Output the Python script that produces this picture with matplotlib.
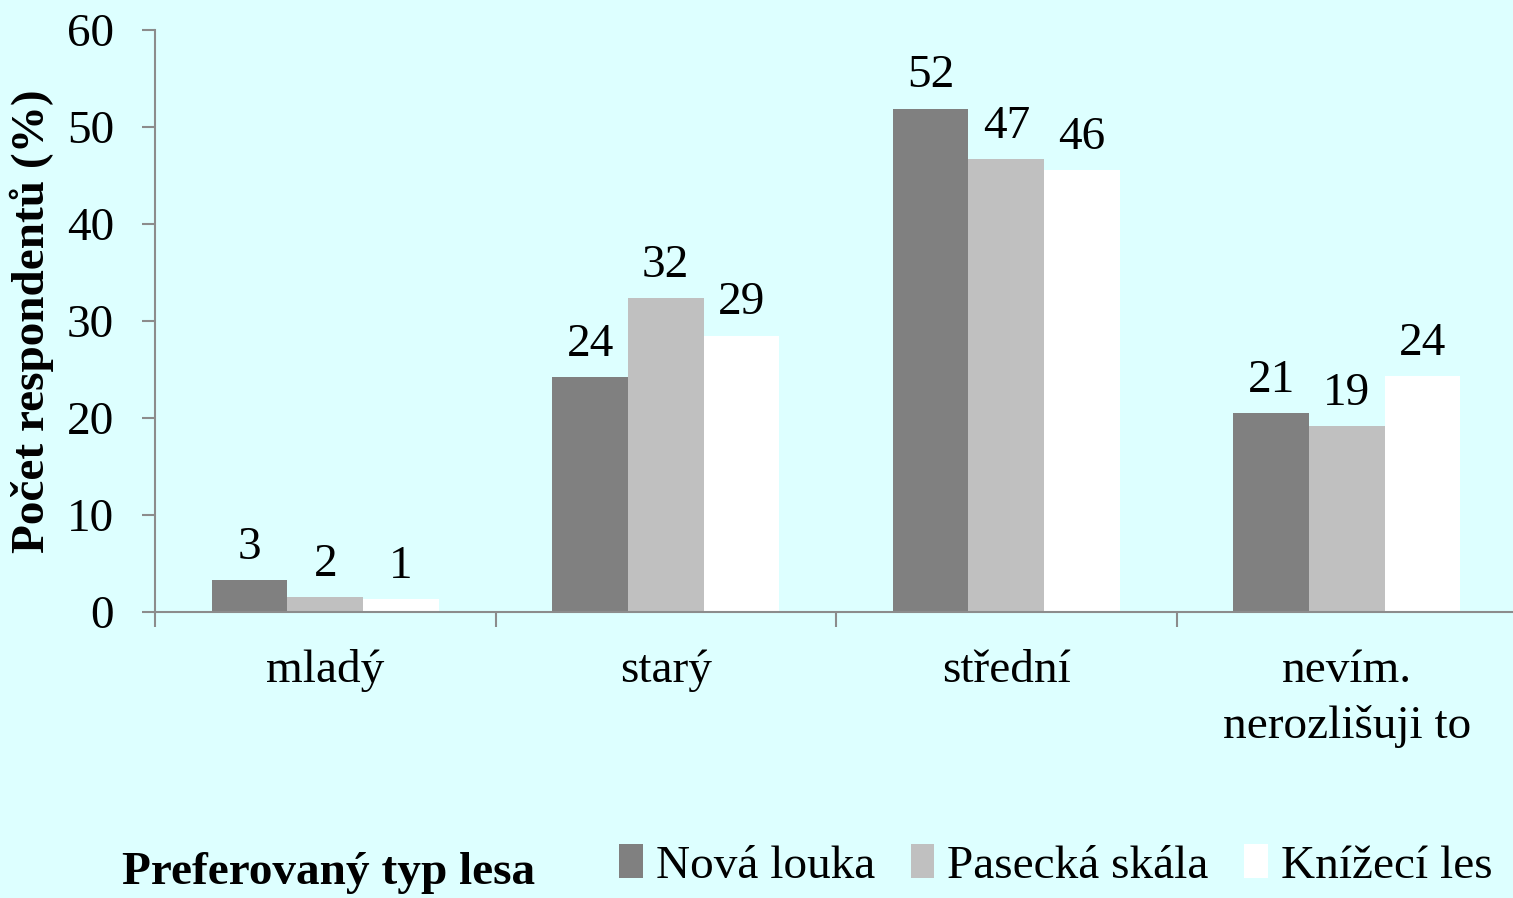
import matplotlib
matplotlib.use("Agg")
import matplotlib.pyplot as plt
import numpy as np
from matplotlib.patches import Patch

categories = ["mladý", "starý", "střední", "nevím.\nnerozlišuji to"]
series_names = ["Nová louka", "Pasecká skála", "Knížecí les"]
nova_louka = [3.3, 24.2, 51.9, 20.5]
pasecka_skala = [1.55, 32.4, 46.7, 19.2]
knizeci_les = [1.35, 28.5, 45.6, 24.3]
label_nova = ["3", "24", "52", "21"]
label_pasecka = ["2", "32", "47", "19"]
label_knizeci = ["1", "29", "46", "24"]
yticks = [0, 10, 20, 30, 40, 50, 60]

colors = ["#808080", "#C0C0C0", "#FFFFFF"]
bg = "#DDFFFF"
axis_col = "#8C8C8C"

plt.rcParams['font.family'] = ['Liberation Serif', 'DejaVu Serif']
FS = 34

fig = plt.figure(figsize=(15.13, 8.98), dpi=100, facecolor=bg)
ax = fig.add_axes([155/1513, 286/898, 1362/1513, 582/898], facecolor=bg)

x = np.arange(len(categories))
w = 0.222
series = [nova_louka, pasecka_skala, knizeci_les]
labels = [label_nova, label_pasecka, label_knizeci]
for i, (vals, labs, col, name) in enumerate(zip(series, labels, colors, series_names)):
    pos = x + (i - 1) * w
    ax.bar(pos, vals, width=w, color=col, label=name, linewidth=0)
    for px, v, t in zip(pos, vals, labs):
        ax.annotate(t, (px, v), xytext=(0, 8), textcoords="offset points",
                    ha="center", va="bottom", fontsize=FS)

ax.set_xlim(-0.5, 3.5)
ax.set_ylim(0, 60)
ax.set_yticks(yticks)
ax.set_yticklabels([str(t) for t in yticks], fontsize=FS)
ax.set_xticks(x)
ax.set_xticklabels(categories, fontsize=FS, linespacing=1.38)
ax.set_xticks([-0.5, 0.5, 1.5, 2.5], minor=True)
ax.tick_params(axis="x", which="major", length=0, pad=27)
ax.tick_params(axis="x", which="minor", length=11, width=1.5, color=axis_col, direction="out")
ax.tick_params(axis="y", which="major", length=9.5, width=1.5, color=axis_col, pad=20)

for s in ["top", "right"]:
    ax.spines[s].set_visible(False)
for s in ["left", "bottom"]:
    ax.spines[s].set_color(axis_col)
    ax.spines[s].set_linewidth(1.5)

ax.set_ylabel("Počet respondentů (%)", fontsize=FS, fontweight="bold")
ax.yaxis.set_label_coords(-0.0745, 0.5)

fig.text(122/1513, 1 - 873/898, "Preferovaný typ lesa", fontsize=FS, fontweight="bold",
         ha="left", va="center")

handles = [Patch(facecolor=c, edgecolor="none") for c in colors]
leg = fig.legend(handles, series_names, loc="center left", bbox_to_anchor=(619/1513, 1 - 866/898),
                 ncol=3, frameon=False, fontsize=FS, handlelength=0.5, handleheight=0.7,
                 handletextpad=0.28, columnspacing=0.75, borderaxespad=0, borderpad=0)

fig.savefig("out.png", dpi=100, facecolor=bg)
